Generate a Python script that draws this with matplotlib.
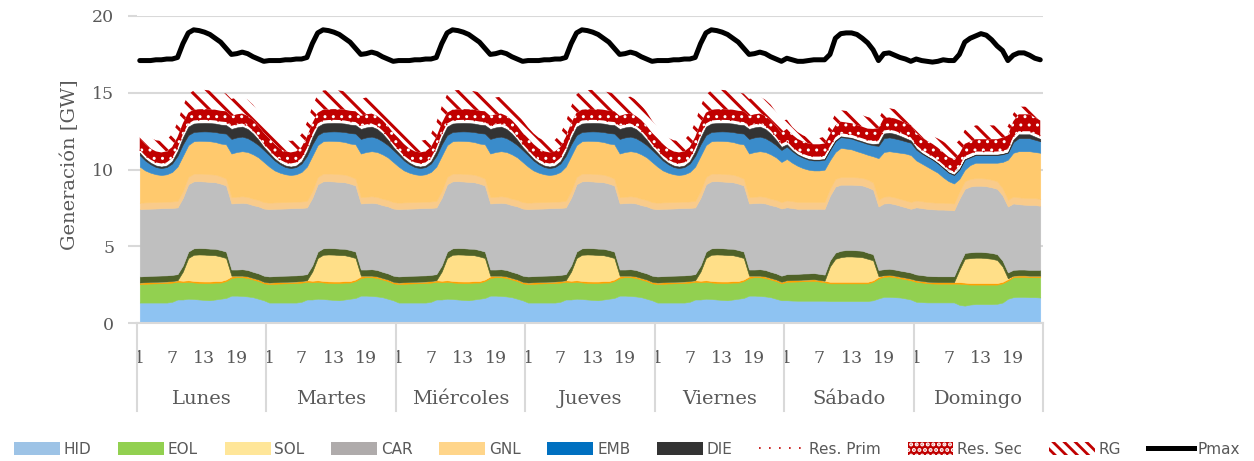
import matplotlib
matplotlib.use('Agg')
import matplotlib.pyplot as plt
import matplotlib.transforms as mtransforms
import numpy as np
from matplotlib.patches import Patch
from matplotlib.lines import Line2D
from matplotlib import font_manager

# perfiles horarios en GW: dia laboral (lunes a viernes), sabado y domingo
hid_lab = [1.35, 1.35, 1.35, 1.35, 1.35, 1.35, 1.4, 1.55, 1.55, 1.6, 1.58, 1.55, 1.52, 1.5, 1.55, 1.6, 1.65, 1.8, 1.8, 1.78, 1.75, 1.7, 1.6, 1.5]
hid_sab = [1.5, 1.48, 1.47, 1.47, 1.47, 1.47, 1.47, 1.47, 1.45, 1.45, 1.45, 1.45, 1.45, 1.45, 1.45, 1.45, 1.5, 1.62, 1.72, 1.72, 1.7, 1.68, 1.62, 1.55]
hid_dom = [1.4, 1.38, 1.36, 1.36, 1.36, 1.36, 1.36, 1.36, 1.2, 1.15, 1.22, 1.25, 1.25, 1.25, 1.25, 1.27, 1.35, 1.6, 1.7, 1.72, 1.72, 1.7, 1.7, 1.68]

eol_lab = [1.2, 1.22, 1.24, 1.25, 1.26, 1.27, 1.25, 1.15, 1.12, 1.1, 1.08, 1.08, 1.1, 1.12, 1.1, 1.05, 1.1, 1.15, 1.2, 1.22, 1.2, 1.15, 1.15, 1.1]
eol_sab = [1.2, 1.23, 1.25, 1.27, 1.28, 1.3, 1.25, 1.2, 1.15, 1.15, 1.15, 1.15, 1.15, 1.15, 1.15, 1.15, 1.2, 1.3, 1.3, 1.33, 1.3, 1.25, 1.25, 1.25]
eol_dom = [1.3, 1.28, 1.25, 1.23, 1.22, 1.22, 1.22, 1.22, 1.38, 1.4, 1.3, 1.27, 1.27, 1.27, 1.27, 1.25, 1.25, 1.18, 1.3, 1.3, 1.3, 1.3, 1.3, 1.32]

geo_lab = [0.1, 0.1, 0.1, 0.1, 0.1, 0.1, 0.1, 0.1, 0.1, 0.1, 0.1, 0.1, 0.1, 0.1, 0.1, 0.1, 0.1, 0.1, 0.1, 0.1, 0.1, 0.1, 0.1, 0.1]
geo_sab = [0.1, 0.1, 0.1, 0.1, 0.1, 0.1, 0.1, 0.1, 0.1, 0.1, 0.1, 0.1, 0.1, 0.1, 0.1, 0.1, 0.1, 0.1, 0.1, 0.1, 0.1, 0.1, 0.1, 0.1]
geo_dom = [0.1, 0.1, 0.1, 0.1, 0.1, 0.1, 0.1, 0.1, 0.1, 0.1, 0.1, 0.1, 0.1, 0.1, 0.1, 0.1, 0.1, 0.1, 0.1, 0.1, 0.1, 0.1, 0.1, 0.1]

sol_lab = [0, 0, 0, 0, 0, 0, 0, 0, 0.6, 1.45, 1.7, 1.75, 1.75, 1.72, 1.68, 1.6, 1.4, 0.05, 0, 0, 0, 0, 0, 0]
sol_sab = [0, 0, 0, 0, 0, 0, 0, 0, 1.0, 1.5, 1.6, 1.65, 1.65, 1.63, 1.6, 1.5, 1.3, 0.05, 0, 0, 0, 0, 0, 0]
sol_dom = [0, 0, 0, 0, 0, 0, 0, 0, 0.8, 1.55, 1.62, 1.65, 1.65, 1.62, 1.58, 1.5, 1.0, 0.05, 0, 0, 0, 0, 0, 0]

bio_lab = [0.4, 0.4, 0.4, 0.4, 0.4, 0.4, 0.4, 0.4, 0.4, 0.42, 0.42, 0.42, 0.42, 0.42, 0.42, 0.42, 0.42, 0.4, 0.4, 0.42, 0.42, 0.4, 0.4, 0.4]
bio_sab = [0.4, 0.4, 0.4, 0.4, 0.4, 0.4, 0.4, 0.4, 0.4, 0.4, 0.42, 0.42, 0.42, 0.42, 0.42, 0.4, 0.4, 0.4, 0.4, 0.4, 0.4, 0.4, 0.4, 0.4]
bio_dom = [0.38, 0.38, 0.38, 0.38, 0.38, 0.38, 0.38, 0.38, 0.38, 0.38, 0.38, 0.38, 0.38, 0.38, 0.38, 0.38, 0.38, 0.38, 0.38, 0.38, 0.38, 0.38, 0.38, 0.38]

car_lab = [4.38, 4.38, 4.37, 4.37, 4.38, 4.38, 4.36, 4.34, 4.4, 4.38, 4.36, 4.35, 4.34, 4.34, 4.33, 4.32, 4.3, 4.3, 4.32, 4.32, 4.33, 4.34, 4.36, 4.37]
car_sab = [4.35, 4.29, 4.23, 4.21, 4.2, 4.18, 4.23, 4.28, 4.2, 4.3, 4.3, 4.25, 4.25, 4.25, 4.25, 4.25, 4.2, 4.13, 4.28, 4.27, 4.25, 4.22, 4.18, 4.15]
car_dom = [4.37, 4.36, 4.36, 4.35, 4.34, 4.34, 4.32, 4.29, 4.24, 4.17, 4.28, 4.3, 4.3, 4.3, 4.27, 4.25, 4.25, 4.29, 4.32, 4.25, 4.22, 4.22, 4.22, 4.17]

cog_lab = [0.42, 0.42, 0.42, 0.42, 0.42, 0.42, 0.42, 0.43, 0.45, 0.48, 0.5, 0.5, 0.5, 0.5, 0.5, 0.48, 0.45, 0.42, 0.42, 0.43, 0.43, 0.42, 0.42, 0.42]
cog_sab = [0.45, 0.45, 0.45, 0.45, 0.45, 0.45, 0.45, 0.45, 0.47, 0.5, 0.5, 0.5, 0.5, 0.5, 0.5, 0.5, 0.47, 0.45, 0.45, 0.45, 0.45, 0.45, 0.45, 0.45]
cog_dom = [0.45, 0.45, 0.45, 0.45, 0.45, 0.45, 0.45, 0.45, 0.47, 0.5, 0.5, 0.5, 0.5, 0.5, 0.5, 0.5, 0.47, 0.45, 0.45, 0.45, 0.45, 0.45, 0.45, 0.45]

gnl_lab = [2.35, 2.08, 1.92, 1.81, 1.74, 1.78, 1.92, 2.23, 2.28, 2.07, 2.11, 2.13, 2.14, 2.15, 2.12, 2.13, 2.23, 2.83, 2.91, 2.93, 2.92, 2.89, 2.77, 2.61]
gnl_sab = [2.7, 2.5, 2.35, 2.2, 2.1, 2.05, 2.05, 2.1, 1.85, 1.75, 1.9, 1.85, 1.8, 1.7, 1.62, 1.62, 1.7, 2.7, 2.9, 2.93, 2.95, 3.0, 3.05, 3.05]
gnl_dom = [2.6, 2.45, 2.3, 2.13, 1.95, 1.65, 1.42, 1.3, 0.83, 0.75, 0.9, 1.0, 1.0, 1.03, 1.1, 1.2, 1.7, 2.6, 2.85, 3.0, 3.03, 3.05, 3.0, 3.0]

emb_lab = [0.75, 0.65, 0.55, 0.47, 0.45, 0.47, 0.55, 0.7, 0.75, 0.65, 0.6, 0.6, 0.62, 0.63, 0.65, 0.68, 0.7, 0.95, 0.95, 0.95, 0.9, 0.85, 0.8, 0.78]
emb_sab = [0.8, 0.75, 0.7, 0.68, 0.65, 0.65, 0.65, 0.65, 0.65, 0.7, 0.7, 0.7, 0.7, 0.7, 0.7, 0.7, 0.72, 0.8, 0.9, 0.9, 0.88, 0.85, 0.8, 0.8]
emb_dom = [0.7, 0.65, 0.65, 0.65, 0.6, 0.6, 0.55, 0.55, 0.6, 0.65, 0.5, 0.5, 0.5, 0.5, 0.5, 0.5, 0.5, 0.45, 0.7, 0.85, 0.85, 0.85, 0.8, 0.75]

die_lab = [0.15, 0.12, 0.1, 0.1, 0.1, 0.1, 0.15, 0.3, 0.45, 0.55, 0.55, 0.55, 0.55, 0.55, 0.55, 0.55, 0.55, 0.65, 0.65, 0.65, 0.6, 0.5, 0.35, 0.2]
die_sab = [0.15, 0.08, 0.05, 0.05, 0.05, 0.05, 0.05, 0.05, 0.05, 0.05, 0.05, 0.05, 0.05, 0.05, 0.05, 0.05, 0.08, 0.15, 0.3, 0.3, 0.3, 0.25, 0.2, 0.15]
die_dom = [0.1, 0.05, 0.03, 0.03, 0.03, 0.03, 0.03, 0.03, 0.03, 0.03, 0.03, 0.03, 0.03, 0.03, 0.03, 0.03, 0.03, 0.03, 0.15, 0.25, 0.25, 0.25, 0.2, 0.15]

rprim_lab = [0.2, 0.2, 0.2, 0.2, 0.2, 0.2, 0.2, 0.2, 0.2, 0.2, 0.2, 0.2, 0.2, 0.2, 0.2, 0.2, 0.2, 0.2, 0.2, 0.2, 0.2, 0.2, 0.2, 0.2]
rprim_sab = [0.2, 0.2, 0.2, 0.2, 0.2, 0.2, 0.2, 0.2, 0.2, 0.2, 0.2, 0.2, 0.2, 0.2, 0.2, 0.2, 0.2, 0.2, 0.2, 0.2, 0.2, 0.2, 0.2, 0.2]
rprim_dom = [0.2, 0.2, 0.2, 0.2, 0.2, 0.2, 0.2, 0.2, 0.2, 0.2, 0.2, 0.2, 0.2, 0.2, 0.2, 0.2, 0.2, 0.2, 0.2, 0.2, 0.2, 0.2, 0.2, 0.2]

rsec_lab = [0.75, 0.75, 0.72, 0.72, 0.72, 0.72, 0.72, 0.72, 0.72, 0.7, 0.7, 0.7, 0.7, 0.7, 0.7, 0.7, 0.7, 0.65, 0.65, 0.65, 0.65, 0.68, 0.7, 0.72]
rsec_sab = [0.8, 0.8, 0.8, 0.8, 0.8, 0.8, 0.8, 0.8, 0.8, 0.78, 0.75, 0.75, 0.75, 0.75, 0.75, 0.75, 0.78, 0.8, 0.8, 0.8, 0.8, 0.8, 0.8, 0.8]
rsec_dom = [0.8, 0.8, 0.8, 0.8, 0.8, 0.8, 0.8, 0.8, 0.8, 0.8, 0.8, 0.8, 0.8, 0.8, 0.8, 0.8, 0.85, 0.9, 1.0, 1.1, 1.1, 1.1, 1.05, 1.0]

rg_lab = [0.7, 0.7, 0.7, 0.72, 0.75, 0.75, 0.85, 0.95, 1.1, 1.2, 1.25, 1.25, 1.25, 1.22, 1.2, 1.2, 1.15, 1.1, 1.1, 1.1, 1.05, 1.0, 0.9, 0.8]
rg_sab = [0.6, 0.5, 0.45, 0.4, 0.4, 0.4, 0.4, 0.45, 0.6, 0.75, 0.75, 0.75, 0.75, 0.75, 0.75, 0.75, 0.7, 0.6, 0.6, 0.6, 0.6, 0.6, 0.6, 0.6]
rg_dom = [0.5, 0.5, 0.5, 0.5, 0.6, 0.7, 0.8, 0.9, 0.9, 0.9, 0.9, 0.9, 0.9, 0.9, 0.9, 0.9, 0.8, 0.6, 0.5, 0.5, 0.5, 0.5, 0.5, 0.5]

pmax_lab = [17.1, 17.1, 17.1, 17.15, 17.15, 17.2, 17.2, 17.3, 18.2, 18.9, 19.1, 19.05, 18.95, 18.8, 18.55, 18.3, 17.9, 17.5, 17.55, 17.65, 17.55, 17.35, 17.2, 17.05]
pmax_sab = [17.25, 17.15, 17.05, 17.05, 17.1, 17.15, 17.15, 17.15, 17.5, 18.55, 18.85, 18.9, 18.9, 18.8, 18.55, 18.25, 17.8, 17.1, 17.55, 17.6, 17.45, 17.3, 17.2, 17.05]
pmax_dom = [17.2, 17.1, 17.05, 17.0, 17.05, 17.15, 17.1, 17.1, 17.5, 18.3, 18.55, 18.7, 18.85, 18.75, 18.45, 18.05, 17.75, 17.1, 17.45, 17.6, 17.6, 17.45, 17.25, 17.15]

dias = ['Lunes', 'Martes', 'Miércoles', 'Jueves', 'Viernes', 'Sábado', 'Domingo']
horas_etiqueta = ['1', '7', '13', '19']


def semana(lab, sab, dom):
    return np.array(lab * 5 + sab + dom)


hid = semana(hid_lab, hid_sab, hid_dom)
eol = semana(eol_lab, eol_sab, eol_dom)
geo = semana(geo_lab, geo_sab, geo_dom)
sol = semana(sol_lab, sol_sab, sol_dom)
bio = semana(bio_lab, bio_sab, bio_dom)
car = semana(car_lab, car_sab, car_dom)
cog = semana(cog_lab, cog_sab, cog_dom)
gnl = semana(gnl_lab, gnl_sab, gnl_dom)
emb = semana(emb_lab, emb_sab, emb_dom)
die = semana(die_lab, die_sab, die_dom)
rprim = semana(rprim_lab, rprim_sab, rprim_dom)
rsec = semana(rsec_lab, rsec_sab, rsec_dom)
rg = semana(rg_lab, rg_sab, rg_dom)
pmax = semana(pmax_lab, pmax_sab, pmax_dom)

x = np.arange(len(hid))

gris_txt = '#595959'
gris_lin = '#D9D9D9'
rojo = '#C00000'

disponibles = {f.name for f in font_manager.fontManager.ttflist}
fuente_leyenda = 'Liberation Sans Narrow' if 'Liberation Sans Narrow' in disponibles else 'DejaVu Sans'
plt.rcParams['font.family'] = 'DejaVu Serif'

fig = plt.figure(figsize=(12.54, 4.61), dpi=100)
ax = fig.add_axes([0.1093, 0.2987, 0.7224, 0.6666])

capas = [
    (hid, '#8EC3F2'),
    (eol, '#92D050'),
    (geo, '#FFA000'),
    (sol, '#FFDF88'),
    (bio, '#4F6228'),
    (car, '#BFBFBF'),
    (cog, '#F9CB8B'),
    (gnl, '#FFC96D'),
    (emb, '#3A8CCB'),
    (die, '#333333'),
]

base = np.zeros(len(x))
for valores, color in capas:
    tope = base + valores
    ax.fill_between(x, base, tope, facecolor=color, edgecolor=color, linewidth=0.4, zorder=2)
    base = tope

# reserva primaria: sin relleno, borde punteado
tope_prim = base + rprim
base = tope_prim

# reserva secundaria: rojo con puntos blancos
tope_sec = base + rsec
with plt.rc_context({'hatch.linewidth': 1.0}):
    c = ax.fill_between(x, base, tope_sec, facecolor=rojo, edgecolor='white', linewidth=0, hatch='..', zorder=2)
    if hasattr(c, 'set_hatch_linewidth'):
        c.set_hatch_linewidth(1.0)
ax.plot(x, tope_prim, color=rojo, lw=1.0, ls=(0, (1, 6)), zorder=3)
base = tope_sec

# regulacion: solo rayado
tope_rg = base + rg
with plt.rc_context({'hatch.linewidth': 2.2}):
    c = ax.fill_between(x, base, tope_rg, facecolor='none', edgecolor=rojo, linewidth=0, hatch='\\\\', zorder=2)
    if hasattr(c, 'set_hatch_linewidth'):
        c.set_hatch_linewidth(2.2)

ax.plot(x, pmax, color='black', lw=3.6, solid_capstyle='round', zorder=4)

ax.set_xlim(-0.5, len(x) - 0.5)
ax.set_ylim(0, 20)
ax.set_yticks([0, 5, 10, 15, 20])
ax.yaxis.grid(True, color=gris_lin, lw=1.5)
ax.set_axisbelow(True)
for lado in ['top', 'left', 'right']:
    ax.spines[lado].set_visible(False)
ax.spines['bottom'].set_color(gris_lin)
ax.spines['bottom'].set_linewidth(1.5)
ax.tick_params(axis='y', length=6.5, width=1.5, color=gris_lin, pad=10, labelsize=12.5, labelcolor=gris_txt)

pos_horas = [d * 24 + h for d in range(7) for h in (0, 6, 12, 18)]
ax.set_xticks(pos_horas)
ax.set_xticklabels(horas_etiqueta * 7)
ax.tick_params(axis='x', length=0, pad=19, labelsize=12.5, labelcolor=gris_txt)

trans = mtransforms.blended_transform_factory(ax.transData, ax.transAxes)
for d in range(8):
    xd = d * 24 - 0.5
    ax.plot([xd, xd], [0, -0.285], transform=trans, color=gris_lin, lw=1.5, clip_on=False)
for d, nombre in enumerate(dias):
    ax.text(d * 24 + 11.5, -0.247, nombre, transform=trans, ha='center', va='center',
            fontsize=14, color=gris_txt)

fig.text(70 / 1254, 1 - 165 / 461, 'Generación [GW]', rotation=90, ha='center', va='center',
         fontsize=14, color=gris_txt)

manejadores = [
    Patch(facecolor='#9DC3E6', edgecolor='none', label='HID'),
    Patch(facecolor='#92D050', edgecolor='none', label='EOL'),
    Patch(facecolor='#FFE699', edgecolor='none', label='SOL'),
    Patch(facecolor='#AFABAB', edgecolor='none', label='CAR'),
    Patch(facecolor='#FFD58A', edgecolor='none', label='GNL'),
    Patch(facecolor='#0070C0', edgecolor='none', label='EMB'),
    Patch(facecolor='#333333', edgecolor='none', label='DIE'),
    Line2D([], [], color=rojo, lw=1.2, ls=(0, (1, 5)), label='Res. Prim'),
    Patch(facecolor=rojo, edgecolor='white', lw=0, hatch='...', label='Res. Sec'),
    Patch(facecolor='white', edgecolor=rojo, lw=0, hatch='\\\\\\', label='RG'),
    Line2D([], [], color='black', lw=3.6, label='Pmax'),
]
with plt.rc_context({'hatch.linewidth': 2.0}):
    leg = fig.legend(handles=manejadores, loc='center', bbox_to_anchor=(0.5, 0.026), ncol=11,
                     frameon=False, prop={'family': fuente_leyenda, 'size': 11},
                     handlelength=3.0, handleheight=0.9, handletextpad=0.25, columnspacing=1.75)
for t in leg.get_texts():
    t.set_color(gris_txt)

fig.savefig('out.png', dpi=100)
